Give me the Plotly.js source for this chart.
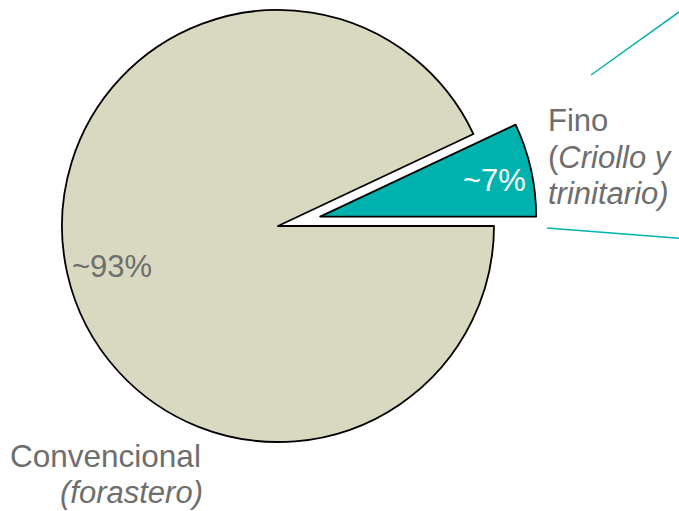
<!DOCTYPE html>
<html>
<head>
<meta charset="utf-8">
<script src="https://cdn.plot.ly/plotly-3.0.1.min.js"></script>
<style>
html,body{margin:0;padding:0;overflow:hidden;background:#fff;width:679px;height:511px;}
#chart{position:absolute;left:0;top:-50px;width:679px;height:600px;}
</style>
</head>
<body>
<div id="chart"></div>
<script>
// Data
const categories = ["Fino (Criollo y trinitario)", "Convencional (forastero)"];
const shares = [7, 93];
const shareLabels = ["~7%", "~93%"];
const sliceColors = ["#00B2AE", "#D9D9C1"];
const pulls = [0.2, 0];

// Geometry (window pixels)
const W = 679, H = 600, OFF = 50;
const cx = 278, cy = 226, r = 216, maxPull = 0.2;
const half = r * (1 + maxPull);
const dx = [(cx - half) / W, (cx + half) / W];
const dy = [1 - (cy + OFF + half) / H, 1 - (cy + OFF - half) / H];
const total = shares.reduce((a, b) => a + b, 0);
const rot = 90 - 360 * shares[0] / total;

const font = "Arial, 'Liberation Sans', sans-serif";
const grey = "#6E6E6E";
const teal = "#00B2AE";

const traces = [
  {
    type: "pie",
    labels: categories,
    values: shares,
    sort: false,
    direction: "clockwise",
    rotation: rot,
    pull: pulls,
    marker: {colors: sliceColors, line: {color: "#000000", width: 1.8}},
    textinfo: "none",
    hoverinfo: "skip",
    showlegend: false,
    domain: {x: dx, y: dy}
  },
  {type: "scatter", x: [], y: [], hoverinfo: "skip", showlegend: false}
];

function ann(text, x, y, size, color, anchor) {
  return {text: text, x: x, y: y, xref: "x", yref: "y", showarrow: false,
    xanchor: anchor || "left", yanchor: "middle",
    font: {family: font, size: size, color: color}};
}

const layout = {
  width: W, height: H,
  margin: {l: 0, r: 0, t: 0, b: 0},
  paper_bgcolor: "#ffffff", plot_bgcolor: "rgba(0,0,0,0)",
  showlegend: false,
  xaxis: {range: [0, W], visible: false, fixedrange: true},
  yaxis: {range: [H - OFF, -OFF], visible: false, fixedrange: true},
  annotations: [
    ann(shareLabels[0], 461, 180, 31, "#ffffff"),
    ann(shareLabels[1], 70, 266, 31, grey),
    ann("Fino", 546, 120, 31, grey),
    ann("(<i>Criollo y</i>", 546, 157, 31, grey),
    ann("<i>trinitario)</i>", 546, 193, 31, grey),
    ann("Convencional", 8, 456, 31.5, grey),
    ann("<i>(forastero)</i>", 58, 492, 31, grey)
  ],
  shapes: [
    {type: "line", xref: "x", yref: "y", x0: 591, y0: 75, x1: 700, y1: -3,
     line: {color: teal, width: 1.5}},
    {type: "line", xref: "x", yref: "y", x0: 547, y0: 228, x1: 690, y1: 239,
     line: {color: teal, width: 1.5}}
  ]
};

Plotly.newPlot("chart", traces, layout, {displayModeBar: false, staticPlot: true});
</script>
</body>
</html>
